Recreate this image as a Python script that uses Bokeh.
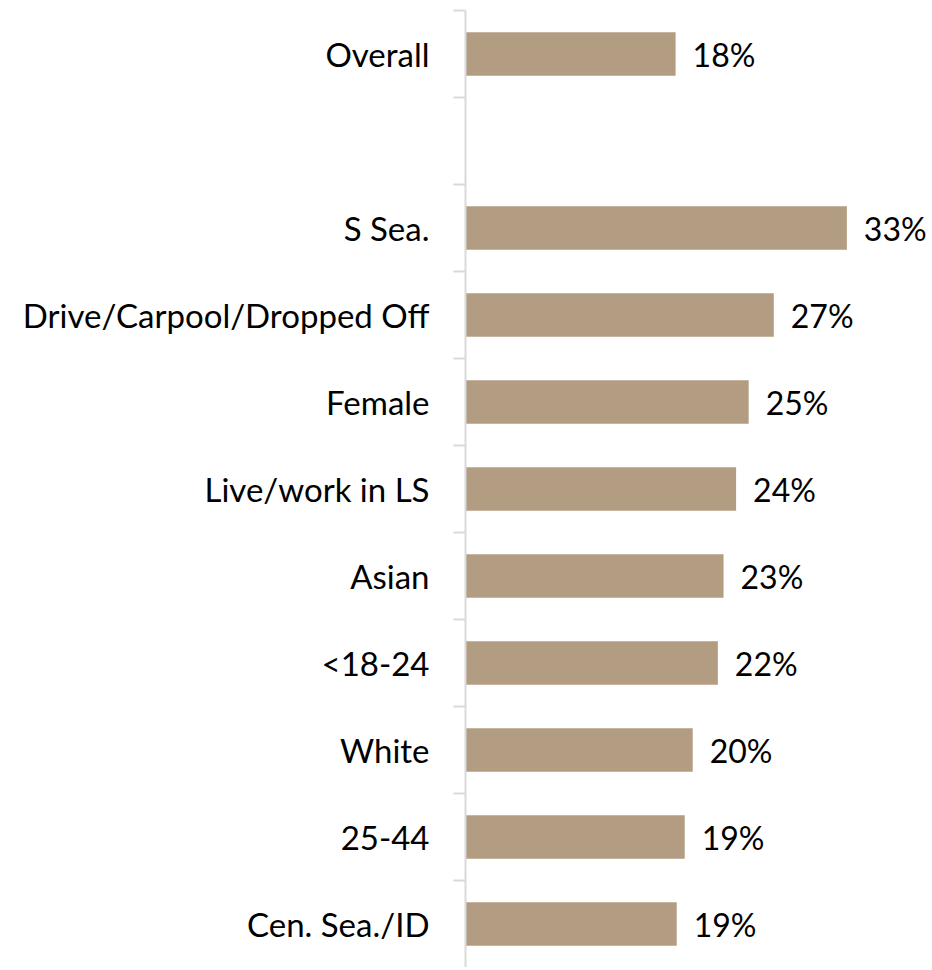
from bokeh.plotting import figure
from bokeh.models import ColumnDataSource, FixedTicker, LinearAxis
from bokeh.embed import file_html
from bokeh.resources import INLINE
from bokeh.core.properties import value

categories = ["Overall", "", "S Sea.", "Drive/Carpool/Dropped Off", "Female", "Live/work in LS",
              "Asian", "<18-24", "White", "25-44", "Cen. Sea./ID"]
values = [18.4, None, 33.4, 27.0, 24.8, 23.7, 22.6, 22.1, 19.9, 19.2, 18.5]
labels = ["18%", "", "33%", "27%", "25%", "24%", "23%", "22%", "20%", "19%", "19%"]

n = len(categories)
ys = [n - 1 - i for i in range(n)]
rows = [(y, v, l) for y, v, l in zip(ys, values, labels) if v is not None]
src = ColumnDataSource(dict(y=[r[0] for r in rows], v=[r[1] for r in rows], lab=[r[2] for r in rows]))

FONT = "Lato"
p = figure(width=932, height=967, output_backend="svg", toolbar_location=None,
           x_range=(0, 40.9), y_range=(-0.5, n - 0.5), y_axis_location=None,
           x_axis_location=None, min_border_left=465, min_border_right=0,
           min_border_top=10, min_border_bottom=0)
p.outline_line_color = None
p.grid.visible = False

p.hbar(y="y", right="v", left=0, height=0.5, source=src, color="#b29d82", line_color=None)
p.text(x="v", y="y", text="lab", source=src, x_offset=17, text_baseline="middle",
       text_align="left", text_font=value(FONT), text_font_size="32px", text_color="#000000")

ax = LinearAxis()
ax.ticker = FixedTicker(ticks=ys, minor_ticks=[y + 0.5 for y in range(n)])
ax.major_label_overrides = {y: c for y, c in zip(ys, categories)}
ax.major_tick_line_color = None
ax.major_tick_out = 0
ax.major_tick_in = 0
ax.minor_tick_out = 12
ax.minor_tick_in = 0
ax.minor_tick_line_color = "#d9d9d9"
ax.minor_tick_line_width = 2
ax.axis_line_color = "#d9d9d9"
ax.axis_line_width = 2
ax.major_label_standoff = 24
ax.major_label_text_font = FONT
ax.major_label_text_font_size = "33px"
ax.major_label_text_color = "#000000"
p.add_layout(ax, "left")

open("out.html", "w").write(file_html(p, INLINE))
